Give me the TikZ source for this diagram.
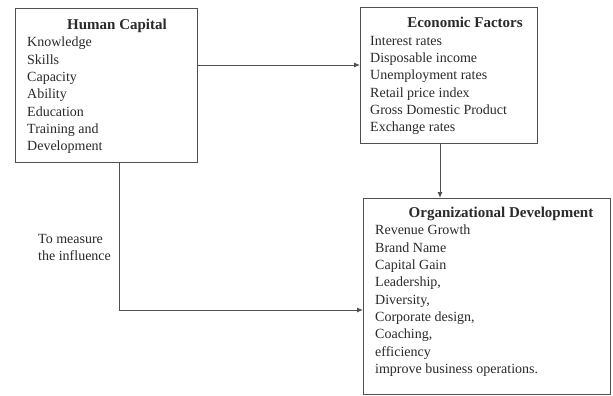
\documentclass[tikz,border=0pt]{standalone}
\usepackage{fontspec}
\setmainfont{Liberation Serif}
\usetikzlibrary{arrows.meta}
\definecolor{inkgray}{HTML}{2A2A2A}
\definecolor{framegray}{HTML}{505050}
\tikzset{
  box/.style={draw=framegray,line width=1.3pt,anchor=north west,inner sep=0pt},
  boxtitle/.style={anchor=base,font=\fontsize{15}{17.3}\selectfont\bfseries,text=inkgray,inner sep=0pt},
  boxlist/.style={anchor=north west,align=left,font=\fontsize{14}{17.3}\selectfont,text=inkgray,inner sep=0pt},
  link/.style={draw=framegray,line width=0.9pt,-{Latex[length=6pt,width=5pt]}}
}

\begin{document}
\begin{tikzpicture}[x=1pt,y=-1pt]
  \useasboundingbox[fill=white] (0,0) rectangle (613,396);
  % boxes
  \node[box,minimum width=182,minimum height=154] (hc) at (15,8) {};
  \node[box,minimum width=177,minimum height=136] (econ) at (360,7) {};
  \node[box,minimum width=247,minimum height=196] (org) at (363,198) {};
  % texts
  \node[boxtitle] (hctitle) at (117,30) {Human Capital};
  \node[boxlist] (hclist) at (27,37) {Knowledge\\Skills\\Capacity\\Ability\\Education\\Training and\\Development};
  \node[boxtitle] (econtitle) at (465,28) {Economic Factors};
  \node[boxlist] (econlist) at (370,36) {Interest rates\\Disposable income\\Unemployment rates\\Retail price index\\Gross Domestic Product\\Exchange rates};
  \node[boxtitle] (orgtitle) at (501,217) {Organizational Development};
  \node[boxlist] (orglist) at (375,225) {Revenue Growth\\Brand Name\\Capital Gain\\Leadership,\\Diversity,\\Corporate design,\\Coaching,\\efficiency\\improve business operations.};
  \node[boxlist] (measure) at (38,234) {To measure\\the influence};
  % connectors
  \coordinate (k1) at (0,65);
  \coordinate (k2) at (440,0);
  \coordinate (k3) at (119,310);
  \draw[link] (hc.east |- k1) -- (econ.west |- k1);
  \draw[link] (econ.south -| k2) -- (org.north -| k2);
  \draw[link] (hc.south -| k3) |- (org.west |- k3);
\end{tikzpicture}
\end{document}
